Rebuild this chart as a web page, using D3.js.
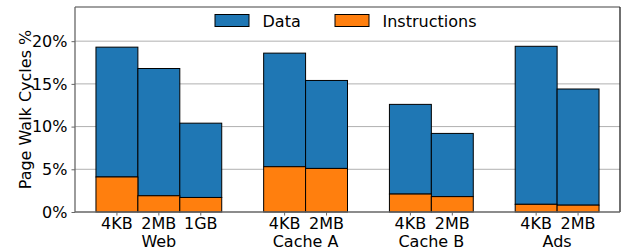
<!doctype html>
<html>
<head>
<meta charset="UTF-8">
<title>Page walk cycles</title>
<script src="https://cdn.jsdelivr.net/npm/d3@7"></script>
<style>
    body { margin: 0; background: #fff; }
    svg { font-family: "DejaVu Sans", sans-serif; }
</style>
</head>
<body>
<svg id="chart" width="622" height="252"></svg>
<script>
    // workloads and their page sizes
    var groups = ["Web", "Cache A", "Cache B", "Ads"];
    var pageSizes = [["4KB", "2MB", "1GB"], ["4KB", "2MB"], ["4KB", "2MB"], ["4KB", "2MB"]];
    // percent of cycles, one entry per bar (in group order)
    var instructions = [4.1, 1.9, 1.7, 5.3, 5.1, 2.1, 1.8, 0.9, 0.8];
    var dataWalks = [15.2, 14.9, 8.7, 13.3, 10.3, 10.5, 7.4, 18.5, 13.6];
    var yTicks = [0, 5, 10, 15, 20];

    var blue = "#1f77b4", orange = "#ff7f0e";
    // note: "top" is taken by window.top, so use other names
    var padL = 75, padR = 620, padT = 7, padB = 212;

    // one slot per bar, one empty slot between groups
    var bars = [];
    var slot = 0;
    var groupSpans = [];
    groups.forEach(function (g, gi) {
        var start = slot;
        pageSizes[gi].forEach(function (p) {
            var i = bars.length;
            bars.push({slot: slot, label: p, group: g, instr: instructions[i], data: dataWalks[i]});
            slot++;
        });
        groupSpans.push({name: g, start: start, end: slot});
        slot++;
    });

    var x = d3.scaleLinear().domain([-0.5, slot - 0.5]).range([padL, padR]);
    var y = d3.scaleLinear().domain([0, 24]).range([padB, padT]);

    var svg = d3.select("#chart");

    // grid
    svg.append("g").selectAll("line").data(yTicks.slice(1)).enter().append("line")
        .attr("x1", padL).attr("x2", padR)
        .attr("y1", function (d) { return y(d); }).attr("y2", function (d) { return y(d); })
        .attr("stroke", "#b0b0b0").attr("stroke-width", 1);

    // bars
    var g = svg.append("g");
    g.selectAll("rect.data").data(bars).enter().append("rect")
        .attr("x", function (d) { return x(d.slot); })
        .attr("width", function (d) { return x(d.slot + 1) - x(d.slot); })
        .attr("y", function (d) { return y(d.instr + d.data); })
        .attr("height", function (d) { return y(d.instr) - y(d.instr + d.data); })
        .attr("fill", blue).attr("stroke", "#000").attr("stroke-width", 1);
    g.selectAll("rect.instr").data(bars).enter().append("rect")
        .attr("x", function (d) { return x(d.slot); })
        .attr("width", function (d) { return x(d.slot + 1) - x(d.slot); })
        .attr("y", function (d) { return y(d.instr); })
        .attr("height", function (d) { return y(0) - y(d.instr); })
        .attr("fill", orange).attr("stroke", "#000").attr("stroke-width", 1);

    // frame
    svg.append("line").attr("x1", padL).attr("x2", padR).attr("y1", padT).attr("y2", padT)
        .attr("stroke", "#808080").attr("stroke-width", 1.3);
    svg.append("line").attr("x1", padR).attr("x2", padR).attr("y1", padT).attr("y2", padB)
        .attr("stroke", "#222").attr("stroke-width", 1.3);
    svg.append("line").attr("x1", padL).attr("x2", padL).attr("y1", padT).attr("y2", padB)
        .attr("stroke", "#666").attr("stroke-width", 1.3);
    svg.append("line").attr("x1", padL).attr("x2", padR).attr("y1", padB).attr("y2", padB)
        .attr("stroke", "#666").attr("stroke-width", 1.3);

    // y axis
    var yAxis = svg.append("g").attr("transform", "translate(" + padL + ",0)")
        .call(d3.axisLeft(y).tickValues(yTicks).tickSize(3.5).tickPadding(4)
            .tickFormat(function (d) { return d + "%"; }));
    yAxis.select(".domain").remove();
    yAxis.selectAll("line").attr("stroke", "#666");
    yAxis.selectAll("text").attr("font-size", 16).attr("fill", "#000")
        .attr("font-family", "DejaVu Sans");

    svg.append("text")
        .attr("transform", "translate(31," + ((padT + padB) / 2) + ") rotate(-90)")
        .attr("text-anchor", "middle").attr("font-size", 16)
        .text("Page Walk Cycles %");

    // x ticks and labels
    var xt = svg.append("g");
    xt.selectAll("line").data(bars).enter().append("line")
        .attr("x1", function (d) { return x(d.slot + 0.5); })
        .attr("x2", function (d) { return x(d.slot + 0.5); })
        .attr("y1", padB).attr("y2", padB + 3.5)
        .attr("stroke", "#666");
    xt.selectAll("text").data(bars).enter().append("text")
        .attr("x", function (d) { return x(d.slot + 0.5); })
        .attr("y", 229).attr("text-anchor", "middle").attr("font-size", 16)
        .text(function (d) { return d.label; });
    svg.append("g").selectAll("text").data(groupSpans).enter().append("text")
        .attr("x", function (d) { return (x(d.start) + x(d.end)) / 2; })
        .attr("y", 247).attr("text-anchor", "middle").attr("font-size", 16)
        .text(function (d) { return d.name; });

    // legend
    var legend = [{name: "Data", color: blue, x: 215}, {name: "Instructions", color: orange, x: 335}];
    var lg = svg.append("g").selectAll("g").data(legend).enter().append("g");
    lg.append("rect").attr("x", function (d) { return d.x; }).attr("y", 14.5)
        .attr("width", 34).attr("height", 12)
        .attr("fill", function (d) { return d.color; }).attr("stroke", "#000").attr("stroke-width", 1);
    lg.append("text").attr("x", function (d) { return d.x + 47.5; }).attr("y", 26.5)
        .attr("font-size", 16).text(function (d) { return d.name; });
</script>
</body>
</html>
